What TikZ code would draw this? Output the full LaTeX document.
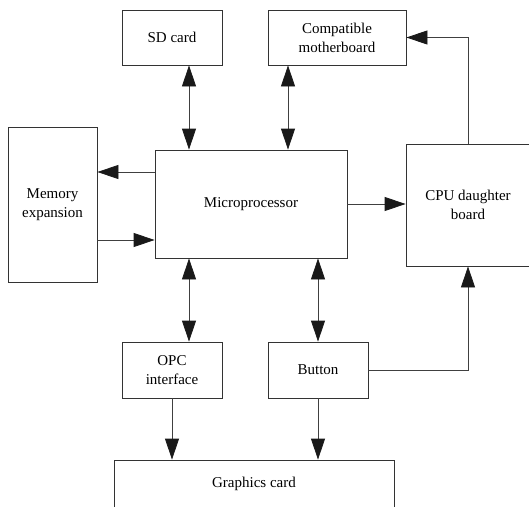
\documentclass[tikz,border=0pt]{standalone}
\usepackage{fontspec}
\setmainfont{Liberation Serif}
\usetikzlibrary{arrows.meta}

\begin{document}
\begin{tikzpicture}[x=1pt, y=-1pt,
  box/.style={draw=black!80, line width=0.8pt, align=center, inner sep=0pt,
    font=\fontsize{15}{19}\selectfont},
  tip/.tip={Triangle[length=21pt, width=14pt, color=black!90, fill=black!90]},
  link/.style={draw=black!75, line width=0.8pt, -tip},
  bilink/.style={draw=black!75, line width=0.8pt, tip-tip}]

\clip (0, 0) rectangle (529, 506);

\node (sd)[box, minimum width=100pt, minimum height=55pt] at (172, 37.5) {SD card};
\node (comp)[box, minimum width=138pt, minimum height=55pt] at (337, 37.5) {Compatible\\motherboard};

\node (mem)[box, minimum width=89pt, minimum height=155pt] at (52.5, 204.5) {Memory\\expansion};
\node (mp)[box, minimum width=192pt, minimum height=108pt] at (251, 204) {Microprocessor};
\node (cpu)[box, minimum width=124pt, minimum height=122pt] at (468, 205) {CPU daughter\\board};

\node (opc)[box, minimum width=100pt, minimum height=56pt] at (172, 370) {OPC\\interface};
\node (btn)[box, minimum width=100pt, minimum height=56pt] at (318, 370) {Button};

\node (gfx)[box, minimum width=280pt, minimum height=47pt] at (254, 483.5) {Graphics card};

\coordinate (sdp) at ([xshift=17pt]sd.south);
\coordinate (cpp) at ([xshift=-49pt]comp.south);
\coordinate (opp) at ([xshift=17pt]opc.north);
\coordinate (m1) at ([yshift=32pt]mp.west);
\coordinate (m2) at ([yshift=-36pt]mp.west);

\draw[bilink] (sdp) -- (sdp |- mp.north);
\draw[bilink] (cpp) -- (cpp |- mp.north);
\draw[link] (cpu.north) -- (cpu.north |- comp.east) -- (comp.east);

\draw[link] (m1) -- (m1 -| mem.east);
\draw[link] (mem.east |- m2) -- (m2);
\draw[link] (mp.east) -- (mp.east -| cpu.west);

\draw[bilink] (opp |- mp.south) -- (opp);
\draw[bilink] (btn.north |- mp.south) -- (btn.north);
\draw[link] (btn.east) -- (btn.east -| cpu.south) -- (cpu.south);

\draw[link] (opc.south) -- (opc.south |- gfx.north);
\draw[link] (btn.south) -- (btn.south |- gfx.north);

\end{tikzpicture}
\end{document}
